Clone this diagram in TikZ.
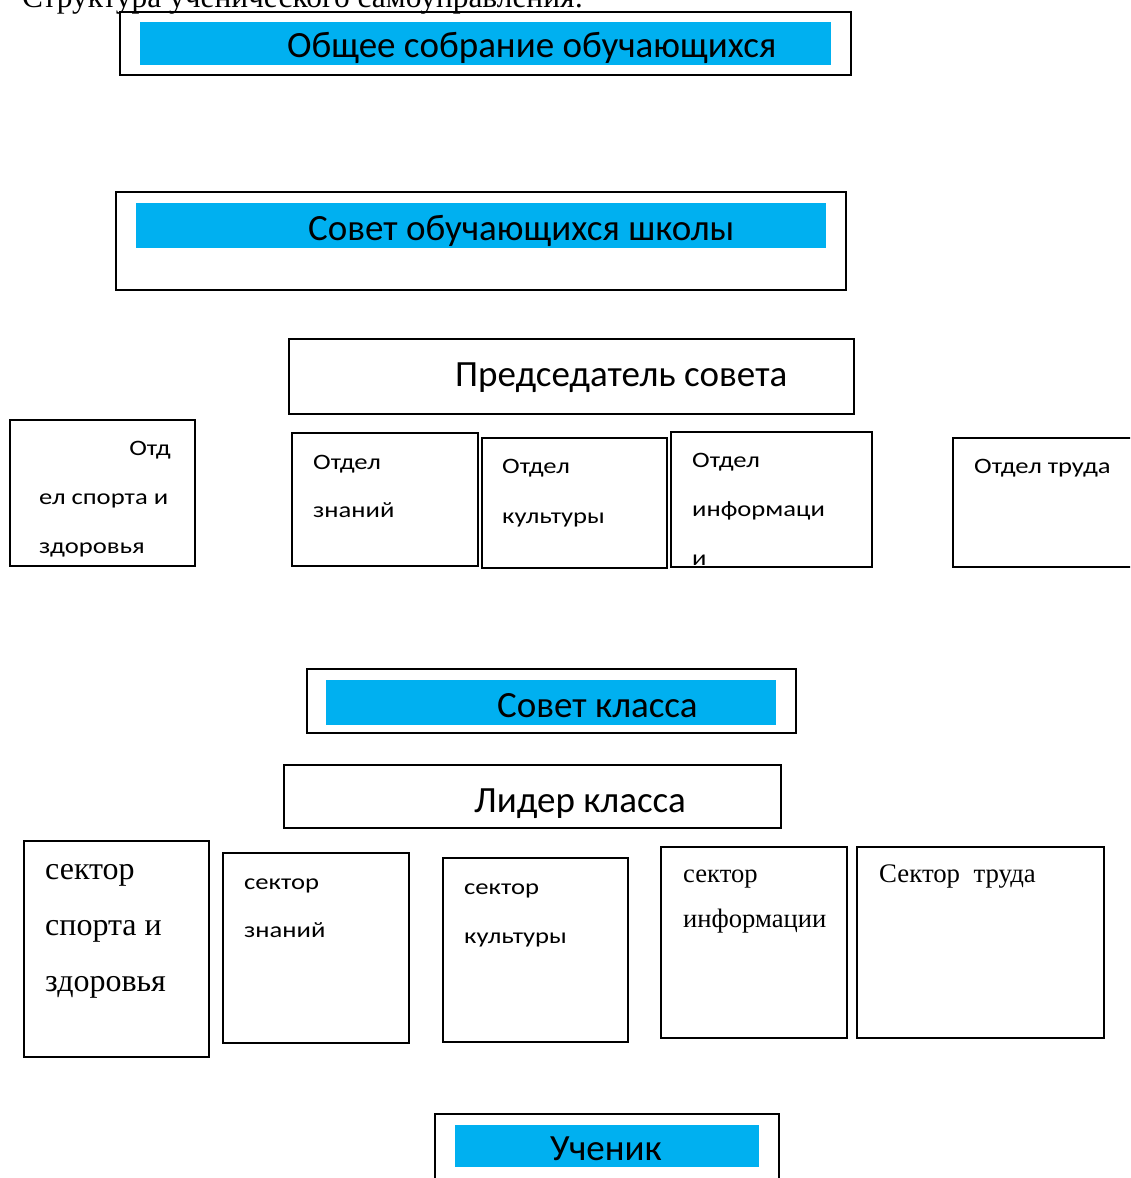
\documentclass[tikz,border=0pt]{standalone}
\usepackage{fontspec}
\setmainfont{Liberation Serif}
\newfontfamily\calfont{Carlito}
\newfontfamily\calwide{Carlito}[FakeStretch=1.21]
\definecolor{barblue}{HTML}{00B0F0}

\begin{document}
\begin{tikzpicture}[x=1pt,y=-1pt,
    frame/.style={draw,line width=1.3pt},
    band/.style={fill=barblue},
    sans/.style={anchor=base west,inner sep=0pt,font=\calwide\fontsize{22}{26}\selectfont},
    serif/.style={anchor=base west,inner sep=0pt,font=\fontsize{32}{36}\selectfont},
    head/.style={anchor=base west,inner sep=0pt,font=\calfont\fontsize{37}{42}\selectfont}]
  \useasboundingbox (0,0) rectangle (1130,1178);
  \clip (0,0) rectangle (1130,1178);
  % caption line, cut by the page top
  \node[serif,font=\fontsize{31.4}{34}\selectfont] (title) at (22,7) {Структура ученического самоуправления:};
  % school level
  \draw[frame] (120,12) rectangle (851,75); \fill[band] (140,22) rectangle (831,65);
  \node[head] (meeting) at (287,57) {Общее собрание обучающихся};
  \draw[frame] (116,192) rectangle (846,290); \fill[band] (136,203) rectangle (826,248);
  \node[head] (council) at (308,240) {Совет обучающихся школы};
  \draw[frame] (289,339) rectangle (854,414);
  \node[head] (chair) at (455,386) {Председатель совета};
  % departments
  \draw[frame] (10,420) rectangle (195,566);
  \node[sans,anchor=base east] (dsport1) at (171,455) {Отд};
  \node[sans] (dsport2) at (39,504) {ел спорта и};
  \node[sans] (dsport3) at (39,553) {здоровья};
  \draw[frame] (292,433) rectangle (478,566);
  \foreach \t [count=\k] in {Отдел,знаний} \node[sans] (dknow\k) at (313,469+48*\k-48) {\t};
  \draw[frame] (482,438) rectangle (667,568);
  \foreach \t [count=\k] in {Отдел,культуры} \node[sans] (dcult\k) at (502,473+50*\k-50) {\t};
  \draw[frame] (671,432) rectangle (872,567);
  \foreach \t [count=\k] in {Отдел,информаци,и} \node[sans] (dinfo\k) at (692,467+49*\k-49) {\t};
  \draw[frame] (953,438) rectangle (1140,567);
  \node[sans] (dlabour) at (974,473) {Отдел труда};
  % class level
  \draw[frame] (307,669) rectangle (796,733); \fill[band] (326,680) rectangle (776,725);
  \node[head] (classcouncil) at (497,717) {Совет класса};
  \draw[frame] (284,765) rectangle (781,828);
  \node[head] (leader) at (474,812) {Лидер класса};
  % sectors
  \draw[frame] (24,841) rectangle (209,1057);
  \foreach \t [count=\k] in {сектор,спорта и,здоровья} \node[serif] (ssport\k) at (45,879+56*\k-56) {\t};
  \draw[frame] (223,853) rectangle (409,1043);
  \foreach \t [count=\k] in {сектор,знаний} \node[sans] (sknow\k) at (244,889+48*\k-48) {\t};
  \draw[frame] (443,858) rectangle (628,1042);
  \foreach \t [count=\k] in {сектор,культуры} \node[sans] (scult\k) at (464,894+49*\k-49) {\t};
  \draw[frame,line width=2pt] (661,847) rectangle (847,1038);
  \foreach \t [count=\k] in {сектор,информации} \node[serif,font=\fontsize{26.6}{30}\selectfont] (sinfo\k) at (683,882+45*\k-45) {\t};
  \draw[frame,line width=2pt] (857,847) rectangle (1104,1038);
  \node[serif,font=\fontsize{26.8}{30}\selectfont] (slabour) at (879,882) {Сектор\ \ труда};
  % pupil
  \draw[frame] (435,1114) rectangle (779,1190); \fill[band] (455,1125) rectangle (759,1167);
  \node[head] (pupil) at (550,1160) {Ученик};
\end{tikzpicture}
\end{document}
